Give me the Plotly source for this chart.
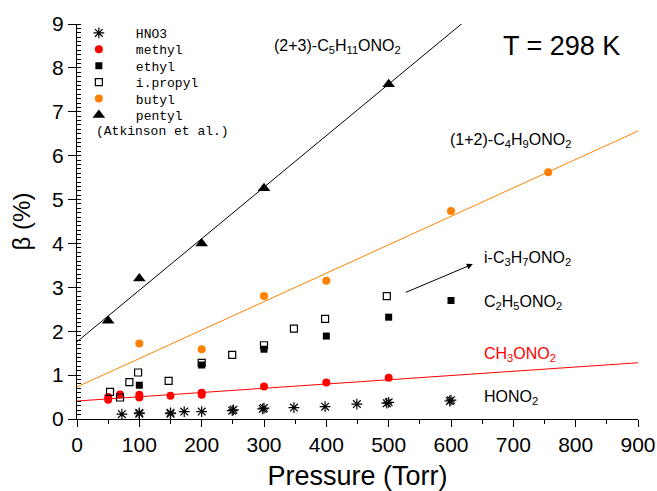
import plotly.graph_objects as go

# ---------------- data ----------------
hno3_x = [72, 100, 100, 150, 150, 172, 200, 249, 251, 298, 300, 348, 398, 449, 497, 500, 598, 600]
hno3_y = [0.11, 0.12, 0.14, 0.12, 0.14, 0.17, 0.17, 0.19, 0.21, 0.23, 0.25, 0.26, 0.28, 0.34, 0.36, 0.38, 0.41, 0.43]

methyl_x = [50, 50, 69, 100, 100, 150, 200, 200, 300, 400, 500]
methyl_y = [0.44, 0.50, 0.56, 0.49, 0.55, 0.53, 0.55, 0.60, 0.74, 0.83, 0.94]

ethyl_x = [100, 200, 300, 400, 500, 600]
ethyl_y = [0.77, 1.23, 1.59, 1.89, 2.32, 2.70]

ipropyl_x = [53, 69, 84, 98, 147, 200, 249, 300, 348, 398, 497]
ipropyl_y = [0.62, 0.49, 0.84, 1.06, 0.87, 1.28, 1.46, 1.68, 2.06, 2.28, 2.80]

butyl_x = [100, 200, 300, 400, 600, 756]
butyl_y = [1.72, 1.59, 2.80, 3.15, 4.74, 5.62]

pentyl_x = [50, 100, 200, 300, 500]
pentyl_y = [2.24, 3.20, 4.00, 5.26, 7.63]

# linear fits: intercept, slope
fit_pentyl = [1.76, 0.01174]
fit_butyl = [0.73, 0.00648]
fit_methyl = [0.41, 0.000968]
fit_x = [0, 900]

x_ticks = [0, 100, 200, 300, 400, 500, 600, 700, 800, 900]
y_ticks = [0, 1, 2, 3, 4, 5, 6, 7, 8, 9]

RED = "#ff0000"
ORANGE = "#ff8000"
FONT = "Liberation Sans, Arial, sans-serif"
MONO = "Liberation Mono, Courier New, monospace"

fig = go.Figure()

def line_y(fit):
    return [fit[0] + fit[1] * x for x in fit_x]

fig.add_trace(go.Scatter(x=fit_x, y=line_y(fit_pentyl), mode="lines",
                         line=dict(color="black", width=1), showlegend=False, hoverinfo="skip"))
fig.add_trace(go.Scatter(x=fit_x, y=line_y(fit_butyl), mode="lines",
                         line=dict(color=ORANGE, width=1), showlegend=False, hoverinfo="skip"))
fig.add_trace(go.Scatter(x=fit_x, y=line_y(fit_methyl), mode="lines",
                         line=dict(color=RED, width=1), showlegend=False, hoverinfo="skip"))

fig.add_trace(go.Scatter(x=hno3_x, y=hno3_y, mode="markers", name="HNO3", legend="legend",
                         marker=dict(symbol="asterisk-open", size=9, color="black",
                                     line=dict(color="black", width=1.2))))
fig.add_trace(go.Scatter(x=methyl_x, y=methyl_y, mode="markers", name="methyl", legend="legend2",
                         marker=dict(symbol="circle", size=8, color=RED, line=dict(width=0))))
fig.add_trace(go.Scatter(x=ethyl_x, y=ethyl_y, mode="markers", name="ethyl", legend="legend3",
                         marker=dict(symbol="square", size=7, color="black", line=dict(width=0))))
fig.add_trace(go.Scatter(x=ipropyl_x, y=ipropyl_y, mode="markers", name="i.propyl", legend="legend4",
                         marker=dict(symbol="square-open", size=7, color="black",
                                     line=dict(color="black", width=1.2))))
fig.add_trace(go.Scatter(x=butyl_x, y=butyl_y, mode="markers", name="butyl", legend="legend5",
                         marker=dict(symbol="circle", size=8, color=ORANGE, line=dict(width=0))))
fig.add_trace(go.Scatter(x=pentyl_x, y=pentyl_y, mode="markers", name="pentyl", legend="legend6",
                         marker=dict(symbol="triangle-up", size=11, color="black", line=dict(width=0))))

ann = []
def label(text, x, y, size=16, color="black", xanchor="left"):
    ann.append(dict(x=x, y=y, xref="x", yref="y", text=text, showarrow=False,
                    xanchor=xanchor, yanchor="middle",
                    font=dict(family=FONT, size=size, color=color)))

label("(2+3)-C<sub>5</sub>H<sub>11</sub>ONO<sub>2</sub>", 418, 8.48, xanchor="center")
label("T = 298 K", 778, 8.50, size=27, xanchor="center")
label("(1+2)-C<sub>4</sub>H<sub>9</sub>ONO<sub>2</sub>", 696, 6.35, xanchor="center")
label("i-C<sub>3</sub>H<sub>7</sub>ONO<sub>2</sub>", 649, 3.65)
label("C<sub>2</sub>H<sub>5</sub>ONO<sub>2</sub>", 649, 2.66)
label("CH<sub>3</sub>ONO<sub>2</sub>", 649, 1.47, color=RED)
label("HONO<sub>2</sub>", 649, 0.50)

ann.append(dict(x=635, y=3.53, ax=525, ay=2.87, xref="x", yref="y", axref="x", ayref="y",
                text="", showarrow=True, arrowhead=2, arrowsize=1.2, arrowwidth=1,
                arrowcolor="black"))
ann.append(dict(x=0.030, y=0.7266, xref="paper", yref="paper", text="(Atkinson et al.)",
                showarrow=False, xanchor="left", yanchor="middle",
                font=dict(family=MONO, size=13, color="black")))

legend_common = dict(x=-0.027, xanchor="left", yanchor="top",
                     bgcolor="rgba(0,0,0,0)", borderwidth=0, itemwidth=64,
                     font=dict(family=MONO, size=13, color="black"))
legend_layout = {}
for k in range(6):
    key = "legend" if k == 0 else "legend%d" % (k + 1)
    top_px = 18.0 + 16.4 * k
    legend_layout[key] = dict(legend_common, y=(419 - top_px) / 395.0)

fig.update_layout(
    width=657, height=491,
    margin=dict(l=77, r=19, t=24, b=72, autoexpand=False),
    paper_bgcolor="white", plot_bgcolor="white",
    font=dict(family=FONT, color="black"),
    annotations=ann,
    xaxis=dict(range=[0, 900], tickvals=x_ticks, showgrid=False, zeroline=False,
               showline=True, linecolor="black", linewidth=1,
               ticks="outside", ticklen=7, tickwidth=1, tickcolor="black",
               minor=dict(ticks="outside", ticklen=4, dtick=50, tickcolor="black", tickwidth=1),
               tickfont=dict(family=FONT, size=21, color="black"),
               title=dict(text="Pressure (Torr)", font=dict(family=FONT, size=27, color="black"),
                          standoff=11)),
    yaxis=dict(range=[0, 9], tickvals=y_ticks, showgrid=False, zeroline=False,
               showline=True, linecolor="black", linewidth=1,
               ticks="outside", ticklen=8, tickwidth=1, tickcolor="black",
               minor=dict(ticks="inside", ticklen=4, dtick=0.1, tickcolor="black", tickwidth=1),
               tickfont=dict(family=FONT, size=21, color="black"),
               title=dict(text="β (%)", font=dict(family=FONT, size=24, color="black"),
                          standoff=14)),
    **legend_layout,
)

fig.write_html("out.html")
